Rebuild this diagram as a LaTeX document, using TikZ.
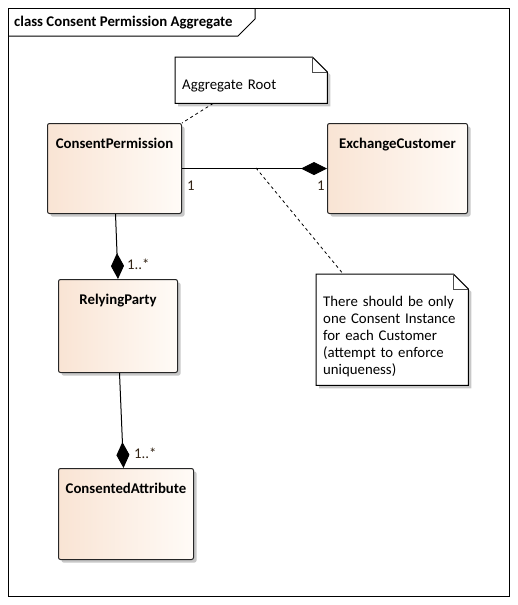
\documentclass[tikz,border=0pt]{standalone}
\usepackage{fontspec}
\setmainfont{Carlito}
\usetikzlibrary{arrows.meta,shadows}
\pgfdeclarelayer{bg}
\pgfsetlayers{bg,main}
\definecolor{boxl}{RGB}{249,228,212}
\definecolor{boxr}{RGB}{255,251,247}
\definecolor{shad}{RGB}{200,200,200}
\definecolor{lblc}{RGB}{50,35,20}
\begin{document}
\begin{tikzpicture}[x=1pt,y=-1pt,
  cls/.style={draw=black!85, line width=1pt, rounded corners=2pt,
    left color=boxl, right color=boxr, inner sep=0pt, anchor=north west,
    font=\fontsize{14.8}{17}\selectfont\bfseries, text height=25pt,
    drop shadow={shadow xshift=3pt, shadow yshift=-3pt, fill=shad, opacity=1}},
  note/.style={inner xsep=7pt, inner ysep=0pt, anchor=north west, align=left,
    font=\fontsize{14.8}{17}\selectfont, text height=32pt},
  notepath/.style={line width=1pt},
  comp/.style={draw=black, line width=1pt, -{Diamond[length=26pt,width=13pt]}},
  anch/.style={draw=black, line width=0.8pt, dash pattern=on 3pt off 3pt},
  mult/.style={anchor=base west, inner sep=0pt, text=lblc, font=\fontsize{14.8}{17}\selectfont},
]
\useasboundingbox (0,0) rectangle (517,605);
% frame
\draw[line width=1pt] (8,8) rectangle (509,596);
\draw[line width=1pt] (8,36) -- (238,36) -- (255,19) -- (255,8);
\node[anchor=base west, inner sep=0pt, font=\fontsize{14.8}{17}\selectfont\bfseries] (title) at (14,27) {class Consent Permission Aggregate};
% classes
\node[cls, minimum width=134pt, text depth=65pt] (cp) at (47,123) {ConsentPermission};
\node[cls, minimum width=140pt, text depth=65pt] (ec) at (327,123) {ExchangeCustomer};
\node[cls, minimum width=119pt, text depth=68pt] (rp) at (58,279) {RelyingParty};
\node[cls, minimum width=135pt, text depth=66pt] (ca) at (58,468) {ConsentedAttribute};
% notes
\node[note, text width=138pt, text depth=14pt] (n1) at (175,57) {Aggregate Root};
\node[note, text width=138pt, text depth=79pt] (n2) at (316,274) {There should be only\\one Consent Instance\\for each Customer\\(attempt to enforce\\uniqueness)};
\begin{pgfonlayer}{bg}
\foreach \n in {n1,n2}{
  \fill[shad] ([shift={(3pt,-3pt)}]\n.north west) -- ([shift={(-12pt,-3pt)}]\n.north east)
     -- ([shift={(3pt,-18pt)}]\n.north east) -- ([shift={(3pt,-3pt)}]\n.south east)
     -- ([shift={(3pt,-3pt)}]\n.south west) -- cycle;
  \filldraw[notepath, fill=white] (\n.north west) -- ([xshift=-15pt]\n.north east)
     -- ([yshift=-15pt]\n.north east) -- (\n.south east) -- (\n.south west) -- cycle;
  \draw[line width=0.8pt, draw=black!70] ([xshift=-15pt]\n.north east) -- ([xshift=-15pt,yshift=-15pt]\n.north east) -- ([yshift=-15pt]\n.north east);
}
\end{pgfonlayer}
% connectors
\coordinate (mid) at (256,168);
\draw[comp] (cp.east) -- (ec.west);
\draw[comp] ([xshift=1pt]cp.south) -- (rp.north);
\draw[comp] ([xshift=1.5pt]rp.south) -- ([xshift=-2.5pt]ca.north);
\draw[anch] ([xshift=-38pt]n1.south) -- (cp.north east);
\draw[anch] (mid) -- ([xshift=-49pt]n2.north);
% multiplicities
\node[mult] (m1) at (187,190) {1};
\node[mult] (m2) at (317,190) {1};
\node[mult] (m3) at (127,269) {1..*};
\node[mult] (m4) at (134,458) {1..*};
\end{tikzpicture}
\end{document}
